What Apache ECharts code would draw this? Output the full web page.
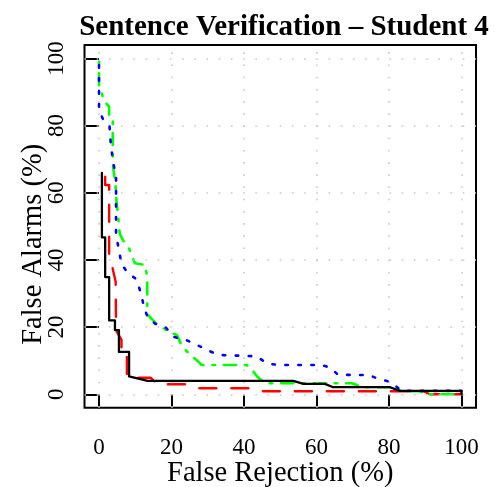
<!DOCTYPE html>
<html>
<head>
<meta charset="utf-8">
<script src="https://cdn.jsdelivr.net/npm/echarts@6/dist/echarts.min.js"></script>
<style>
  html, body { margin: 0; padding: 0; background: #fff; }
  #chart { width: 499px; height: 487px; }
</style>
</head>
<body>
<div id="chart"></div>
<script>
// DET curves: false rejection (%) vs false alarms (%)
const ticks = [0, 20, 40, 60, 80, 100];
const tickLabels = ['0', '20', '40', '60', '80', '100'];

const blackFR = [0.8, 0.8, 1.7, 1.7, 2.8, 2.8, 4.4, 4.4, 5.5, 5.5, 8.3, 8.3, 13.4, 53.6, 56.4, 62.3, 64.6, 80.3, 83.0, 100, 100];
const blackFA = [65.9, 46.7, 46.7, 34.9, 34.9, 22.0, 22.0, 19.1, 19.1, 12.6, 12.6, 5.3, 4.0, 4.0, 3.1, 3.1, 2.1, 2.1, 1.0, 1.0, 0];

const redFR = [1.7, 1.7, 2.8, 2.8, 3.6, 4.6, 4.7, 6.2, 6.2, 7.7, 7.7, 7.9, 14.3, 16.0, 24.1, 27.6, 42.5, 45.3, 89.5, 91.3, 100];
const redFA = [64.8, 62.3, 62.3, 41.0, 38.2, 33.5, 19.0, 16.2, 13.2, 13.2, 6.0, 4.9, 4.9, 3.0, 3.0, 1.8, 1.8, 0.9, 0.9, 0, 0];

const greenFR = [0, 0, 0.6, 1.2, 2.8, 2.8, 3.8, 3.8, 3.9, 4.5, 4.8, 5.3, 5.7, 6.6, 8.4, 9.9, 12.7, 13.3, 13.3, 13.5, 15.9, 18.6, 21.5, 23.0, 24.8, 27.4, 28.3, 40.7, 41.7, 43.6, 45.8, 69.8, 72.5, 80.5, 83.5, 88.5, 90.0, 100];
const greenFA = [99.0, 91.5, 90.6, 87.6, 85.6, 83.1, 82.5, 69.7, 67.4, 63.2, 57.8, 52.8, 47.9, 45.9, 43.2, 39.0, 38.5, 35.0, 26.0, 23.6, 20.9, 19.1, 17.6, 14.1, 12.2, 9.7, 8.7, 8.7, 8.1, 5.3, 3.3, 3.3, 2.1, 2.1, 0.9, 0.9, 0, 0];

const blueFR = [0, 0, 1.3, 2.9, 3.2, 3.6, 4.0, 4.7, 4.7, 5.5, 6.2, 8.0, 10.3, 11.6, 12.4, 13.4, 15.5, 18.5, 20.5, 24.0, 27.0, 30.2, 33.0, 43.5, 46.3, 49.4, 61.5, 64.0, 65.9, 74.5, 77.0, 80.0, 82.0, 83.5, 100];
const blueFA = [98.0, 84.6, 81.4, 79.8, 75.2, 71.5, 68.5, 65.2, 47.5, 43.0, 38.8, 36.0, 34.3, 30.0, 26.0, 23.0, 21.0, 19.8, 17.1, 16.2, 14.7, 13.0, 11.7, 11.3, 9.2, 8.7, 8.7, 7.8, 5.8, 5.7, 4.6, 3.8, 2.3, 1.0, 1.0];

const zip = (xs, ys) => xs.map((x, i) => [x, ys[i]]);

const FONT = 'Liberation Serif';
const chart = echarts.init(document.getElementById('chart'), null, { renderer: 'canvas' });

function curve(name, xs, ys, color, type, width, z) {
  return {
    name: name,
    type: 'line',
    data: zip(xs, ys),
    showSymbol: false,
    symbol: 'none',
    animation: false,
    z: z,
    lineStyle: { color: color, width: width, type: type, cap: 'round', join: 'round' }
  };
}

const gridLineStyle = { color: '#c8c8c8', width: 1.6, type: [1.6, 10.6] };

chart.setOption({
  backgroundColor: '#ffffff',
  animation: false,
  title: {
    text: 'Sentence Verification \u2013 Student 4',
    left: 279,
    textAlign: 'center',
    top: 8,
    textStyle: { fontFamily: FONT, fontWeight: 'bold', fontSize: 29, color: '#000' }
  },
  grid: {
    left: 84.5, right: 23, top: 45, bottom: 79.3,
    outerBoundsMode: 'none',
    show: true, borderColor: '#000', borderWidth: 2, backgroundColor: 'transparent'
  },
  xAxis: {
    type: 'value', min: -4, max: 104,
    name: 'False Rejection (%)', nameLocation: 'middle', nameGap: 51, nameMoveOverlap: false,
    nameTextStyle: { fontFamily: FONT, fontSize: 28.5, color: '#000' },
    axisLine: { show: false },
    axisTick: { show: true, inside: false, length: 14, customValues: ticks, lineStyle: { color: '#000', width: 2 } },
    axisLabel: {
      customValues: ticks, margin: 29,
      formatter: v => tickLabels[ticks.indexOf(v)],
      fontFamily: FONT, fontSize: 23, color: '#000'
    },
    splitLine: { show: false }
  },
  yAxis: {
    type: 'value', min: -4, max: 104,
    name: 'False Alarms (%)', nameLocation: 'middle', nameGap: 36, nameRotate: 90, nameMoveOverlap: false,
    nameTextStyle: { fontFamily: FONT, fontSize: 28.5, color: '#000', padding: [0, 36, 0, 0] },
    axisLine: { show: false },
    axisTick: { show: true, inside: false, length: 14, customValues: ticks, lineStyle: { color: '#000', width: 2 } },
    axisLabel: {
      customValues: ticks, margin: 16, rotate: 90,
      formatter: v => tickLabels[ticks.indexOf(v)],
      fontFamily: FONT, fontSize: 23, color: '#000'
    },
    splitLine: { show: false }
  },
  series: [
    {
      name: 'grid', type: 'line', data: [], silent: true, z: 1,
      markLine: {
        silent: true, symbol: 'none', animation: false,
        label: { show: false },
        lineStyle: gridLineStyle,
        data: ticks.map(v => ({ xAxis: v })).concat(ticks.map(v => ({ yAxis: v })))
      }
    },
    curve('red', redFR, redFA, '#ff0000', [17, 15], 2.4, 3),
    curve('green', greenFR, greenFA, '#00ff00', [2.5, 9, 12, 9], 2.6, 4),
    curve('blue', blueFR, blueFA, '#0000ff', [2.5, 10.5], 2.6, 5),
    curve('black', blackFR, blackFA, '#000000', 'solid', 2.3, 6)
  ]
});
</script>
</body>
</html>
